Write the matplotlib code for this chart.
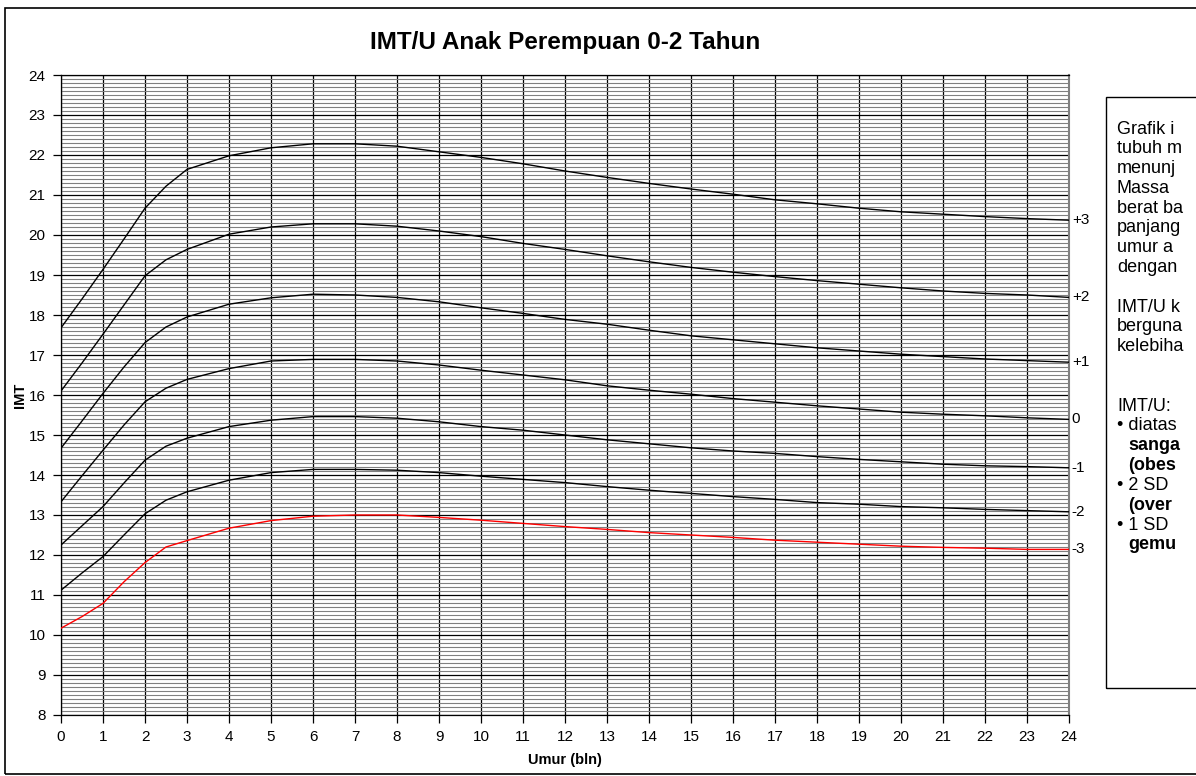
import numpy as np
import matplotlib.pyplot as plt
from matplotlib.patches import Rectangle
from matplotlib.ticker import MultipleLocator, FixedLocator

plt.rcParams['font.family'] = ['Liberation Sans', 'DejaVu Sans']

# umur (bulan) dan nilai IMT tiap garis z-score
umur = [0, 0.5, 1, 1.5, 2, 2.5, 3, 4, 5, 6, 7, 8, 9, 10, 11, 12,
        13, 14, 15, 16, 17, 18, 19, 20, 21, 22, 23, 24]

sd_plus3 = [17.68, 18.40, 19.14, 19.90, 20.67, 21.22, 21.64, 21.98, 22.18, 22.28,
            22.28, 22.22, 22.08, 21.94, 21.78, 21.60, 21.44, 21.29, 21.15, 21.02,
            20.88, 20.78, 20.67, 20.58, 20.52, 20.46, 20.41, 20.37]
sd_plus2 = [16.10, 16.80, 17.52, 18.25, 18.98, 19.38, 19.64, 20.02, 20.20, 20.28,
            20.28, 20.22, 20.10, 19.96, 19.79, 19.64, 19.48, 19.33, 19.19, 19.07,
            18.96, 18.86, 18.77, 18.68, 18.60, 18.54, 18.50, 18.44]
sd_plus1 = [14.67, 15.35, 16.04, 16.70, 17.31, 17.70, 17.95, 18.27, 18.43, 18.52,
            18.50, 18.44, 18.33, 18.18, 18.04, 17.89, 17.77, 17.62, 17.48, 17.38,
            17.28, 17.18, 17.10, 17.02, 16.96, 16.90, 16.86, 16.82]
median = [13.33, 13.98, 14.62, 15.25, 15.83, 16.17, 16.39, 16.66, 16.85, 16.89,
          16.89, 16.85, 16.75, 16.62, 16.50, 16.38, 16.23, 16.12, 16.02, 15.91,
          15.82, 15.73, 15.65, 15.57, 15.52, 15.48, 15.43, 15.39]
sd_min1 = [12.25, 12.73, 13.21, 13.80, 14.37, 14.72, 14.92, 15.21, 15.37, 15.46,
           15.46, 15.42, 15.33, 15.21, 15.12, 15.00, 14.88, 14.78, 14.68, 14.60,
           14.54, 14.46, 14.39, 14.33, 14.27, 14.23, 14.21, 14.18]
sd_min2 = [11.12, 11.55, 11.96, 12.50, 13.03, 13.37, 13.58, 13.87, 14.06, 14.14,
           14.14, 14.12, 14.06, 13.97, 13.89, 13.81, 13.71, 13.62, 13.54, 13.46,
           13.39, 13.31, 13.27, 13.21, 13.18, 13.14, 13.11, 13.08]
sd_min3 = [10.17, 10.46, 10.79, 11.33, 11.81, 12.20, 12.36, 12.67, 12.86, 12.97,
           13.00, 13.00, 12.94, 12.87, 12.79, 12.71, 12.64, 12.56, 12.50, 12.44,
           12.37, 12.32, 12.27, 12.22, 12.19, 12.17, 12.14, 12.14]

curves = [sd_plus3, sd_plus2, sd_plus1, median, sd_min1, sd_min2, sd_min3]
curve_labels = ['+3', '+2', '+1', '0', '-1', '-2', '-3']
curve_colors = ['black'] * 6 + ['red']

# the note box is cut off by the picture edge; only these parts show
info_lines = [
    ("Grafik i", False), ("tubuh m", False), ("menunj", False),
    ("Massa", False), ("berat ba", False), ("panjang", False),
    ("umur a", False), ("dengan", False), ("", False),
    ("IMT/U k", False), ("berguna", False), ("kelebiha", False),
    ("", False), ("", False), ("IMT/U:", False), ("\u2022 diatas", False),
    ("sanga", True), ("(obes", True), ("\u2022 2 SD", False),
    ("(over", True), ("\u2022 1 SD", False), ("gemu", True),
]

W, H = 1196, 776
fig = plt.figure(figsize=(W / 100, H / 100), dpi=100)

# frame around the whole chart
fig.patches.append(Rectangle((5 / W, 2 / H), 1.2, (774 - 8) / H, transform=fig.transFigure,
                             fill=False, ec='black', lw=1.2))

ax = fig.add_axes([61 / W, (H - 715) / H, 1008 / W, 640 / H])
ax.set_xlim(0, 24)
ax.set_ylim(8, 24)
ax.xaxis.set_major_locator(MultipleLocator(1))
ax.yaxis.set_major_locator(MultipleLocator(1))
minor = [v / 10 for v in range(80, 241) if v % 10 != 0]
ax.yaxis.set_minor_locator(FixedLocator(minor))
ax.grid(which='minor', axis='y', color='#808080', lw=0.8)
ax.grid(which='major', axis='both', color='black', lw=0.9)
ax.tick_params(which='minor', length=0)
ax.tick_params(which='major', length=6, width=0.9, labelsize=11, pad=5)
for side in ['left', 'bottom', 'top']:
    ax.spines[side].set_color('black')
    ax.spines[side].set_linewidth(0.9)
ax.spines['right'].set_color('#808080')
ax.spines['right'].set_linewidth(1.5)

for vals, lab, col in zip(curves, curve_labels, curve_colors):
    ax.plot(umur, vals, color=col, lw=1.0, zorder=3)
    ax.annotate(lab, xy=(24, vals[-1]), xytext=(2, 0), textcoords='offset points',
                va='center', ha='left', fontsize=11, annotation_clip=False)

ax.set_title('IMT/U Anak Perempuan 0-2 Tahun', fontsize=17.5, fontweight='bold', pad=19)
ax.set_xlabel('Umur (bln)', fontsize=10.5, fontweight='bold', labelpad=6)
ax.set_ylabel('IMT', fontsize=10.5, fontweight='bold', labelpad=1)

# keterangan di kanan
fig.patches.append(Rectangle((1106 / W, (H - 688) / H), 0.2, (688 - 97) / H,
                             transform=fig.transFigure, fill=False, ec='black', lw=1))
y0, step = 129, 19.8
for i, (txt, bold) in enumerate(info_lines):
    x = 1128 if bold else 1117
    fig.text(x / W, (H - (y0 + step * i)) / H, txt, fontsize=13, va='center', ha='left',
             fontweight='bold' if bold else 'normal')

fig.savefig('out.png', dpi=100)
